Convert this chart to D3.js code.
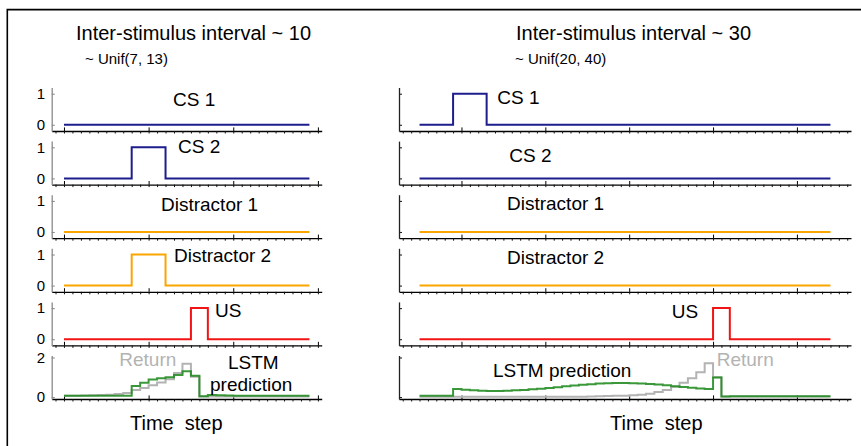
<!DOCTYPE html>
<html>
<head>
<meta charset="utf-8">
<script src="https://cdn.jsdelivr.net/npm/d3@7"></script>
<style>
  html, body { margin: 0; padding: 0; background: #fff; }
  svg { display: block; }
  text { font-family: "Liberation Sans", Arial, Helvetica, sans-serif; fill: #000; }
</style>
</head>
<body>
<svg id="chart" width="861" height="446"></svg>
<script>
// ---- data: left condition (ISI ~ 10), 30 time steps ----
const leftCS1 = [0,0,0,0,0,0,0,0,0,0, 0,0,0,0,0,0,0,0,0,0, 0,0,0,0,0,0,0,0,0,0];
const leftCS2 = [0,0,0,0,0,0,0,0,1,1, 1,1,0,0,0,0,0,0,0,0, 0,0,0,0,0,0,0,0,0,0];
const leftDistractor1 = [0,0,0,0,0,0,0,0,0,0, 0,0,0,0,0,0,0,0,0,0, 0,0,0,0,0,0,0,0,0,0];
const leftDistractor2 = [0,0,0,0,0,0,0,0,1,1, 1,1,0,0,0,0,0,0,0,0, 0,0,0,0,0,0,0,0,0,0];
const leftUS = [0,0,0,0,0,0,0,0,0,0, 0,0,0,0,0,1,1,0,0,0, 0,0,0,0,0,0,0,0,0,0];
const leftReturn = [0.06,0.07,0.08,0.09,0.10,0.12,0.15,0.20,0.36,0.46,
                    0.60,0.74,0.90,1.22,1.68,1.02,0.03,0.03,0.03,0.03,
                    0.03,0.03,0.03,0.03,0.03,0.03,0.03,0.03,0.03,0.03];
const leftLSTM = [0.06,0.06,0.06,0.06,0.06,0.06,0.06,0.06,0.56,0.72,
                  0.88,0.95,1.00,1.12,1.30,1.07,0.04,0.10,0.09,0.08,
                  0.07,0.06,0.06,0.06,0.06,0.06,0.06,0.06,0.06,0.06];

// ---- data: right condition (ISI ~ 30), 50 time steps ----
const rightCS1 = [0,0,0,0,1,1,1,1,0,0, 0,0,0,0,0,0,0,0,0,0, 0,0,0,0,0,0,0,0,0,0,
                  0,0,0,0,0,0,0,0,0,0, 0,0,0,0,0,0,0,0,0,0];
const rightCS2 = [0,0,0,0,0,0,0,0,0,0, 0,0,0,0,0,0,0,0,0,0, 0,0,0,0,0,0,0,0,0,0,
                  0,0,0,0,0,0,0,0,0,0, 0,0,0,0,0,0,0,0,0,0];
const rightDistractor1 = [0,0,0,0,0,0,0,0,0,0, 0,0,0,0,0,0,0,0,0,0, 0,0,0,0,0,0,0,0,0,0,
                          0,0,0,0,0,0,0,0,0,0, 0,0,0,0,0,0,0,0,0,0];
const rightDistractor2 = [0,0,0,0,0,0,0,0,0,0, 0,0,0,0,0,0,0,0,0,0, 0,0,0,0,0,0,0,0,0,0,
                          0,0,0,0,0,0,0,0,0,0, 0,0,0,0,0,0,0,0,0,0];
const rightUS = [0,0,0,0,0,0,0,0,0,0, 0,0,0,0,0,0,0,0,0,0, 0,0,0,0,0,0,0,0,0,0,
                 0,0,0,0,0,1,1,0,0,0, 0,0,0,0,0,0,0,0,0,0];
const rightReturn = [0.02,0.02,0.02,0.02,0.02,0.02,0.02,0.02,0.02,0.02,
                     0.02,0.02,0.02,0.02,0.02,0.02,0.02,0.02,0.02,0.02,
                     0.03,0.04,0.05,0.06,0.07,0.09,0.12,0.17,0.25,0.36,
                     0.52,0.72,0.95,1.25,1.71,1.00,0.03,0.03,0.03,0.03,
                     0.03,0.03,0.03,0.03,0.03,0.03,0.03,0.03,0.03,0.03];
const rightLSTM = [0.07,0.07,0.07,0.07,0.40,0.37,0.34,0.32,0.31,0.31,
                   0.32,0.34,0.36,0.39,0.42,0.46,0.50,0.54,0.58,0.62,
                   0.65,0.68,0.70,0.71,0.71,0.70,0.68,0.66,0.63,0.59,
                   0.55,0.51,0.47,0.43,0.40,0.99,0.03,0.04,0.04,0.04,
                   0.04,0.04,0.04,0.04,0.04,0.04,0.04,0.04,0.04,0.04];

// ---- labels and ticks ----
const titles = ["Inter-stimulus interval ~ 10", "Inter-stimulus interval ~ 30"];
const subtitles = ["~ Unif(7, 13)", "~ Unif(20, 40)"];
const rowNames = ["CS 1", "CS 2", "Distractor 1", "Distractor 2", "US"];
const leftMajorTicks = [0, 10, 20, 30];
const rightMajorTicks = [5, 15, 25, 35, 45];
const stimTicks = [0, 1];
const lstmTicks = [0, 2];

const colors = {
  cs: "#1d1d8c",
  distractor: "#fba500",
  us: "#f21414",
  lstm: "#1f8a1f",
  ret: "#b3b3b3"
};

const svg = d3.select("#chart");

// outer frame (top and left edges)
svg.append("path")
  .attr("d", "M7.3,446 L7.3,9.6 L861,9.6")
  .attr("fill", "none").attr("stroke", "#000").attr("stroke-width", 1.6);

const rowPitch = 53.6, firstBottom = 131, rowHeight = 43.5;
const rowBottom = i => firstBottom + i * rowPitch;

const panels = [
  {
    x0: 51.7, x1: 321.7, majors: leftMajorTicks, yAxisColor: "#8a8a8a", showY: true,
    stim: [leftCS1, leftCS2, leftDistractor1, leftDistractor2, leftUS],
    ret: leftReturn, lstm: leftLSTM,
    title: { x: 76, y: 40 }, sub: { x: 85, y: 64 },
    labels: [
      { x: 173, y: 106 }, { x: 178, y: 153 }, { x: 161, y: 210.5 },
      { x: 174, y: 262.3 }, { x: 215, y: 317.3 }
    ],
    extra: [
      { t: "Return", x: 119.3, y: 366, fill: colors.ret },
      { t: "LSTM", x: 228, y: 369.3 },
      { t: "prediction", x: 210, y: 391 }
    ],
    time: { x: 130, y: 430 }
  },
  {
    x0: 399, x1: 851, majors: rightMajorTicks, yAxisColor: "#222", showY: false,
    stim: [rightCS1, rightCS2, rightDistractor1, rightDistractor2, rightUS],
    ret: rightReturn, lstm: rightLSTM,
    title: { x: 516, y: 40 }, sub: { x: 515, y: 64 },
    labels: [
      { x: 497.3, y: 104.3 }, { x: 509.3, y: 162.3 }, { x: 507, y: 210 },
      { x: 507, y: 264 }, { x: 671.7, y: 318.3 }
    ],
    extra: [
      { t: "Return", x: 716.7, y: 366, fill: colors.ret },
      { t: "LSTM prediction", x: 493, y: 376.7 }
    ],
    time: { x: 610, y: 430 }
  }
];

const stimColors = [colors.cs, colors.cs, colors.distractor, colors.distractor, colors.us];

panels.forEach((p, pi) => {
  const n = p.lstm.length;
  const span = n - 1;
  const x = d3.scaleLinear().domain([-0.05 * span, span * 1.05]).range([p.x0, p.x1]);
  const minorTicks = d3.range(Math.ceil(x.domain()[0]), Math.floor(x.domain()[1]) + 1);

  const g = svg.append("g");

  g.append("text").attr("x", p.title.x).attr("y", p.title.y)
    .attr("font-size", 20).text(titles[pi]);
  g.append("text").attr("x", p.sub.x).attr("y", p.sub.y)
    .attr("font-size", 15).text(subtitles[pi]);

  for (let r = 0; r < 6; r++) {
    const bottom = rowBottom(r);
    const isLSTM = r === 5;
    const y = d3.scaleLinear()
      .domain(isLSTM ? [-0.1, 2.1] : [-0.2, 1.2])
      .range([bottom, bottom - rowHeight]);
    const row = g.append("g");

    // x axis: minor ticks below, major ticks above
    const minorAxis = d3.axisBottom(x).tickValues(minorTicks)
      .tickSizeInner(2.5).tickSizeOuter(0).tickFormat("");
    const majorAxis = d3.axisTop(x).tickValues(p.majors)
      .tickSizeInner(3.6).tickSizeOuter(0).tickFormat("");
    const ax1 = row.append("g").attr("transform", `translate(0,${bottom})`).call(minorAxis);
    ax1.select(".domain").attr("stroke", "#000").attr("stroke-width", 1.3);
    ax1.selectAll(".tick line").attr("stroke", "#111").attr("stroke-width", 1);
    const ax2 = row.append("g").attr("transform", `translate(0,${bottom})`).call(majorAxis);
    ax2.select(".domain").remove();
    ax2.selectAll(".tick line").attr("stroke", "#000").attr("stroke-width", 1);

    // y axis
    const yTicks = isLSTM ? lstmTicks : stimTicks;
    const yAxis = d3.axisRight(y).tickValues(yTicks)
      .tickSizeInner(3).tickSizeOuter(0).tickFormat("");
    const ay = row.append("g").attr("transform", `translate(${p.x0},0)`).call(yAxis);
    ay.select(".domain").attr("stroke", p.yAxisColor).attr("stroke-width", 1.3);
    ay.selectAll(".tick line").attr("stroke", p.yAxisColor).attr("stroke-width", 1.1);
    if (p.showY) {
      row.selectAll("text.ylab").data(yTicks).join("text")
        .attr("class", "ylab")
        .attr("x", p.x0 - 6.5).attr("y", d => y(d) + 5.3)
        .attr("text-anchor", "end").attr("font-size", 15)
        .text(d => d);
    }

    const line = d3.line()
      .x((d, i) => x(i))
      .y(d => y(d))
      .curve(d3.curveStepAfter);

    if (!isLSTM) {
      row.append("path").datum(p.stim[r]).attr("d", line)
        .attr("fill", "none").attr("stroke", stimColors[r])
        .attr("stroke-width", 2);
      row.append("text").attr("x", p.labels[r].x).attr("y", p.labels[r].y)
        .attr("font-size", 19).text(rowNames[r]);
    } else {
      row.append("path").datum(p.ret).attr("d", line)
        .attr("fill", "none").attr("stroke", colors.ret)
        .attr("stroke-width", 2);
      row.append("path").datum(p.lstm).attr("d", line)
        .attr("fill", "none").attr("stroke", colors.lstm)
        .attr("stroke-opacity", 0.88)
        .attr("stroke-width", 2);
      p.extra.forEach(e => {
        row.append("text").attr("x", e.x).attr("y", e.y)
          .attr("font-size", 19)
          .style("fill", e.fill || "#000")
          .text(e.t);
      });
    }
  }

  g.append("text").attr("x", p.time.x).attr("y", p.time.y)
    .attr("font-size", 20).style("white-space", "pre").text("Time  step");
});
</script>
</body>
</html>
